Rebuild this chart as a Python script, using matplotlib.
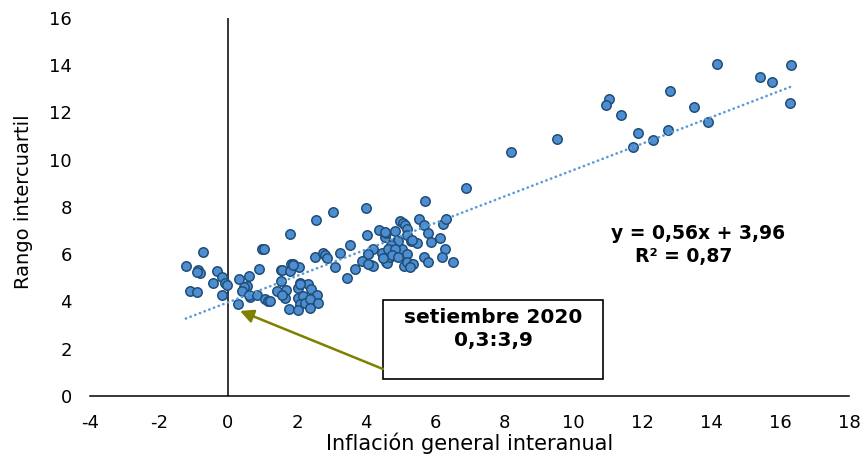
import matplotlib
matplotlib.use("Agg")
import numpy as np
import matplotlib.pyplot as plt
from matplotlib.patches import Rectangle

plt.rcParams['axes.unicode_minus'] = False

# inflacion general interanual (x) y rango intercuartil (y)
inflacion = [-1.22, -0.73, -0.86, -0.81, -0.89, -0.33, -0.18, -0.44, -0.09, -0.02,
             -1.10, -0.91, -0.16, 0.30, 0.32, 0.60, 0.54, 0.46, 0.40, 0.64,
             0.60, 0.85, 1.07, 1.17, 0.89, 0.99, 1.05,
             1.80, 2.54, 1.53, 1.58, 1.82, 1.89, 1.80, 2.07, 1.53, 1.41,
             1.67, 1.65, 1.58, 1.78, 2.02, 2.08, 2.31, 2.42, 2.57, 2.02,
             2.18, 2.08, 2.23, 2.37, 2.62, 2.04, 2.37, 2.52, 2.75, 2.82,
             2.88, 3.10, 3.24, 3.54, 3.44, 3.68, 3.94, 4.02, 3.05, 4.00,
             1.22, 1.89, 2.09,
             6.90, 5.71, 4.07, 4.21, 4.13, 4.19, 4.38, 4.46, 4.57, 4.61,
             4.54, 4.59, 4.69, 4.84, 4.90, 4.98, 5.08, 5.14, 5.20, 5.18,
             5.03, 5.18, 5.10, 5.18, 5.36, 5.28, 5.30, 5.48, 5.53, 5.68,
             5.68, 5.80, 5.80, 5.87, 6.13, 6.28, 6.19, 6.22, 6.33, 6.51,
             4.93, 5.33, 4.72, 4.64, 4.84, 4.06, 4.74, 4.93, 3.87, 4.06,
             4.50, 4.55,
             8.19, 9.54, 11.04, 10.94, 11.40, 11.89, 11.74, 12.32, 12.75, 12.82,
             13.50, 13.90, 14.17, 15.40, 15.76, 16.31, 16.29]
rango = [5.51, 6.11, 5.34, 5.20, 5.25, 5.27, 5.03, 4.80, 4.78, 4.69,
         4.45, 4.41, 4.28, 3.90, 4.96, 5.08, 4.67, 4.63, 4.45, 4.17,
         4.27, 4.28, 4.10, 4.03, 5.37, 6.21, 6.21,
         6.84, 7.43, 5.34, 5.34, 5.58, 5.58, 5.30, 5.44, 4.87, 4.46,
         4.49, 4.14, 4.28, 3.67, 4.59, 4.77, 4.75, 4.52, 4.28, 4.14,
         4.21, 3.89, 3.95, 4.11, 3.93, 3.64, 3.72, 5.90, 6.04, 5.97,
         5.83, 5.44, 6.04, 6.37, 4.99, 5.38, 5.73, 6.82, 7.77, 7.97,
         4.04, 5.55, 4.72,
         8.80, 8.26, 6.02, 6.21, 5.55, 5.51, 7.03, 6.07, 5.69, 5.62,
         6.72, 6.89, 5.90, 6.99, 6.54, 7.39, 7.31, 7.25, 7.06, 6.82,
         6.21, 6.02, 5.51, 5.69, 5.59, 5.45, 6.54, 6.47, 7.48, 7.25,
         5.90, 5.69, 6.89, 6.50, 6.68, 6.23, 5.90, 7.27, 7.50, 5.65,
         6.55, 6.60, 6.38, 6.24, 6.22, 5.99, 5.96, 5.89, 5.70, 5.60,
         5.82, 6.92,
         10.34, 10.88, 12.57, 12.33, 11.89, 11.14, 10.55, 10.82, 11.28, 12.89,
         12.22, 11.60, 14.05, 13.49, 13.28, 14.00, 12.40]

pendiente = 0.56
intercepto = 3.96
r2 = 0.87

fig = plt.figure(figsize=(8.64, 4.62), dpi=100)
ax = fig.add_axes([0.104, 0.143, 0.879, 0.818])

ax.scatter(inflacion, rango, s=46, color='#4E8ED0', edgecolors='#1F4E79',
           linewidths=1.1, zorder=2)

xt = np.array([min(inflacion), max(inflacion)])
ax.plot(xt, pendiente*xt + intercepto, color='#5B9BD5', lw=1.9,
        linestyle=(0, (0.1, 1.8)), dash_capstyle='round', zorder=3)

ax.axvline(0, color='black', lw=1.1, zorder=1)

ax.set_xlim(-4, 18)
ax.set_ylim(0, 16)
ax.set_xticks(range(-4, 19, 2))
ax.set_yticks(range(0, 17, 2))
ax.tick_params(axis='both', length=0, labelsize=13)
ax.tick_params(axis='x', pad=13)
ax.tick_params(axis='y', pad=13)
for s in ['top', 'right', 'left']:
    ax.spines[s].set_visible(False)
ax.spines['bottom'].set_linewidth(1.1)

fig.text(0.544, 0.041, "Inflación general interanual", fontsize=15,
         ha='center', va='center')
fig.text(0.027, 0.563, "Rango intercuartil", fontsize=14, rotation=90,
         ha='center', va='center')

ax.text(13.62, 6.86, "y = 0,56x + 3,96", fontsize=13.5, fontweight='bold',
        ha='center', va='center')
ax.text(13.2, 5.9, "R² = 0,87", fontsize=13.5, fontweight='bold',
        ha='center', va='center')

ax.add_patch(Rectangle((4.49, 0.72), 6.38, 3.34, facecolor='white',
                       edgecolor='black', lw=1.2, zorder=4))
ax.text(7.68, 3.34, "setiembre 2020", fontsize=14.5, fontweight='bold',
        ha='center', va='center', zorder=5)
ax.text(7.68, 2.33, "0,3:3,9", fontsize=14.5, fontweight='bold',
        ha='center', va='center', zorder=5)

ax.annotate('', xy=(0.35, 3.6), xytext=(4.49, 1.14),
            arrowprops=dict(arrowstyle='-|>', color='#7F7F00', lw=1.8,
                            mutation_scale=20, shrinkA=0, shrinkB=0),
            zorder=5)

plt.savefig("out.png", dpi=100)
